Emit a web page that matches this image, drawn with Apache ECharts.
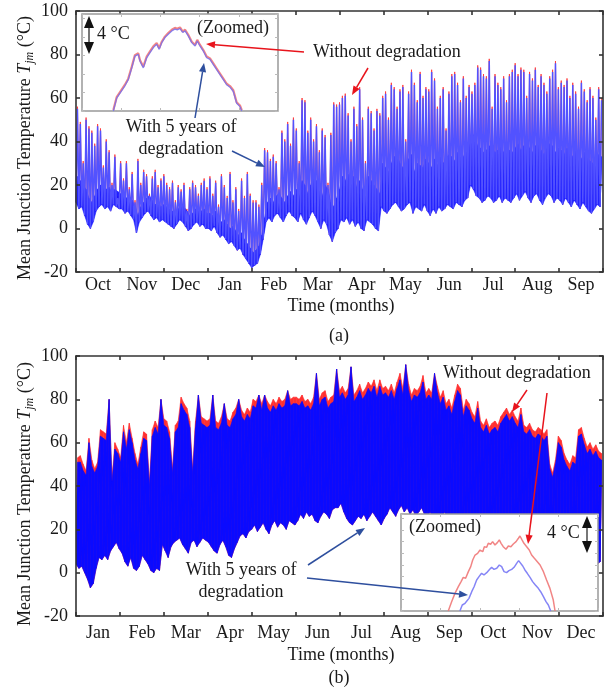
<!DOCTYPE html>
<html><head><meta charset="utf-8">
<script src="https://cdn.jsdelivr.net/npm/echarts@6/dist/echarts.min.js"></script>
<style>html,body{margin:0;padding:0;background:#fff}#c{width:613px;height:691px}</style>
</head><body><div id="c"></div>
<script>
// ---------- categories / ticks ----------
const monthsA = ['Oct','Nov','Dec','Jan','Feb','Mar','Apr','May','Jun','Jul','Aug','Sep'];
const monthsB = ['Jan','Feb','Mar','Apr','May','Jun','Jul','Aug','Sep','Oct','Nov','Dec'];
const yMin = -20, yMax = 100, yStep = 20;

// ---------- chart (a): 2-day periods ----------
const aMin = [
 12,9,10,6,2,0,3,8,10,11,9,10,8,11,10,9,
 9,7,8,6,4,-2,3,5,7,8,6,4,5,3,4,
 3,2,1,0,2,4,3,1,-1,0,2,3,1,2,0,
 0,-1,1,-2,-4,-3,-5,-7,-6,-8,-10,-9,-12,-14,-16,-18,
 -17,-16,-12,-5,3,5,3,6,7,5,3,6,8,6,
 5,3,7,4,2,5,8,6,3,0,4,2,-3,-6,-2,
 0,4,3,5,2,4,1,3,0,-1,4,3,2,0,-1,
 10,8,7,9,11,12,10,8,9,11,12,7,10,9,8,11,
 8,6,9,7,10,8,9,11,10,9,12,11,10,13,14,
 20,18,15,14,12,13,15,14,12,13,15,12,14,13,12,
 14,16,13,15,17,14,12,15,16,13,11,14,16,15,12,14,
 13,11,14,12,10,13,11,9,12,10,8,7,9,11,10];
// upper edge of the dense (low-load hours) band
const aDense = [
 24,22,20,18,14,12,15,18,20,20,18,19,16,18,17,16,
 16,14,15,13,10,6,10,12,14,15,13,11,12,10,11,
 10,9,8,7,9,11,10,8,6,7,9,10,8,9,7,
 7,6,8,5,3,4,2,0,1,-1,-3,-2,-5,-7,-9,-11,
 -10,-8,-3,5,12,14,12,15,16,14,12,15,17,15,
 18,15,22,20,16,20,24,22,18,15,20,18,12,10,14,
 18,24,22,25,20,24,19,22,18,15,24,22,20,18,16,
 30,28,26,30,33,34,30,28,29,32,34,26,30,29,28,32,
 30,28,32,29,33,30,32,34,33,31,35,34,33,36,38,
 44,42,38,37,35,36,38,37,35,36,38,35,37,36,35,
 37,39,36,38,40,37,35,38,39,36,34,37,39,38,35,37,
 36,34,37,35,33,36,34,32,35,33,31,30,32,34,33];
const aMaxDeg = [
 55,48,30,50,46,44,38,47,45,28,40,35,20,33,14,30,
 22,30,18,25,12,31,20,26,24,15,23,26,19,22,24,
 20,18,21,12,19,17,20,8,18,21,19,15,20,22,18,
 23,15,21,10,24,19,14,25,12,18,8,22,14,25,15,12,
 12,10,20,36,35,31,33,30,18,44,40,48,38,50,
 45,30,59,58,44,50,40,47,35,45,42,20,43,57,56,
 57,60,61,52,40,55,47,64,50,30,55,53,45,54,52,
 60,62,50,66,64,55,63,65,40,62,72,66,58,71,60,64,
 63,72,68,55,60,64,45,62,70,71,66,58,69,60,65,
 62,66,74,73,70,69,77,55,70,66,64,69,58,70,72,
 75,70,73,72,60,71,68,73,65,70,66,62,69,72,76,64,
 67,65,68,60,66,62,55,67,63,58,64,60,50,64,59];
const aMaxNoDeg = [
 56,49,31,51,47,45,39,48,46,29,41,36,21,34,15,31,
 23,31,19,26,13,32,21,27,25,16,24,27,20,23,25,
 21,19,22,13,20,18,21,9,19,22,20,16,21,23,19,
 24,16,22,11,25,20,15,26,13,19,9,23,15,26,16,13,
 13,11,21,37,36,32,34,31,19,45,41,49,39,51,
 46,31,60,59,45,51,41,48,36,46,43,21,44,58,57,
 58,61,62,53,41,56,48,65,51,31,56,54,46,55,53,
 61,63,51,67,65,56,64,66,41,63,73,67,59,72,61,65,
 64,73,69,56,61,65,46,63,71,72,67,59,70,61,66,
 63,67,75,74,71,70,78,56,71,67,65,70,59,71,73,
 76,71,74,73,61,72,69,74,66,71,67,63,70,73,77,65,
 68,66,69,61,67,63,56,68,64,59,65,61,51,65,60];

// ---------- chart (b) ----------
const bMin = [
 4,2,3,0,-3,-7,-5,2,7,6,8,6,10,12,14,11,
 9,5,3,7,2,1,3,8,6,4,1,0,2,1,
 13,10,7,12,14,15,16,13,11,9,14,15,12,14,16,15,
 14,12,10,9,13,15,12,8,7,11,14,17,18,16,19,
 20,22,19,21,23,20,18,22,24,21,23,22,20,24,23,
 22,24,27,25,28,26,27,24,23,26,28,27,25,29,30,
 30,32,28,25,23,22,24,26,25,27,24,26,28,26,24,22,
 25,27,30,28,26,29,31,28,30,27,29,26,28,30,27,
 26,28,25,27,24,26,28,25,23,27,25,22,24,26,23,
 24,22,20,23,21,19,22,20,18,21,19,17,20,18,16,19,
 18,16,19,15,17,14,16,13,15,12,14,10,8,11,9,
 10,8,6,9,7,5,8,6,4,7,5,3,6,4,5];
const bMaxDeg = [
 51,51,47,45,60,49,46,49,63,62,61,80,42,57,55,51,
 65,57,66,60,52,48,55,62,61,40,63,67,64,80,
 68,67,62,46,65,67,78,75,73,67,46,67,82,69,68,67,
 68,82,67,66,69,78,68,67,71,73,80,72,70,73,71,
 77,76,82,75,82,76,74,77,75,78,76,77,84,77,78,
 78,77,79,76,77,75,78,92,77,80,81,76,78,79,94,
 81,83,80,82,95,79,81,84,80,82,85,83,86,81,86,82,
 83,81,84,80,85,89,82,96,84,79,82,81,83,88,80,
 82,80,92,83,78,81,75,77,73,79,84,82,72,77,75,
 71,69,76,67,65,68,64,66,67,65,69,71,73,70,72,69,
 67,73,65,64,66,63,62,64,63,61,63,48,44,50,60,
 58,52,49,47,51,50,63,64,59,55,57,54,56,53,52];
const bMaxNoDeg = [
 53,54,50,47,62,52,48,51,66,65,64,80,44,60,57,53,
 68,60,69,62,55,50,58,65,64,42,66,70,67,80,
 71,70,65,48,68,70,81,78,76,70,48,70,82,72,71,70,
 71,82,70,69,72,78,71,70,74,76,80,75,73,76,74,
 80,79,82,78,82,79,77,80,78,81,79,80,84,80,81,
 81,80,82,79,80,78,81,92,80,83,84,79,81,82,94,
 84,86,83,85,95,82,84,87,83,85,88,86,89,84,89,85,
 86,84,87,83,88,92,85,96,87,82,85,84,86,91,83,
 85,83,92,86,81,84,78,80,76,82,87,85,75,80,78,
 74,72,79,70,68,71,67,69,70,68,72,74,76,73,75,72,
 70,76,68,67,69,66,65,67,66,64,66,50,46,52,63,
 61,55,52,50,54,53,66,67,62,58,60,57,59,56,55];

// ---------- zoomed insets (relative °C) ----------
const zoomA_t = [16.0,17.7,19.4,21.9,23.6,25.4,27.0,28.7,29.6,31.3,33.0,34.7,36.4,38.1,39.4,40.7,42.3,44.0,45.8,47.4,48.6,50.0,51.4,52.6,54.2,56.0,57.7,58.8,60.2,61.9,63.6,65.3,67.0,68.7,70.4,72.1,73.8,75.5,77.2,78.9,80.6,81.5];
const zoomA_deg = [0,1.39,1.93,2.73,3.39,4.67,5.94,6.13,5.39,4.67,5.76,6.31,6.86,7.22,6.67,7.40,7.95,8.31,8.67,8.86,8.78,8.93,8.50,8.67,8.13,7.40,7.04,7.58,7.04,6.49,5.76,5.58,5.03,4.48,3.94,3.39,2.84,2.58,2.11,0.84,0.47,0];
const zoomA_nodeg = [0.1,1.5,2.05,2.85,3.5,4.8,6.05,6.25,5.5,4.8,5.9,6.45,7.0,7.35,6.8,7.5,8.05,8.45,8.8,9.0,8.9,9.05,8.6,8.8,8.25,7.5,7.15,7.7,7.15,6.6,5.9,5.7,5.15,4.6,4.05,3.5,2.95,2.7,2.25,0.95,0.6,0.1];
const zoomB_tNo = [24.0,25.7,27.4,29.1,30.5,31.6,32.8,34.2,35.4,36.4,37.6,38.9,40.1,41.5,42.3,43.5,44.3,45.5,46.5,47.7,48.9,49.9,50.8,51.9,53.3,54.5,55.8,57.0,58.4,59.6,60.4,61.3,62.4,63.8,65.1,66.3,67.7,69.2,70.6,72.3,73.9,75.6,77.3,78.2];
const zoomB_nodeg = [0,1.01,1.91,2.63,3.18,3.64,3.54,4.26,4.80,5.52,6.06,6.24,6.60,6.42,6.96,6.89,7.33,7.22,7.51,7.14,7.40,7.69,7.33,6.96,6.68,7.04,6.96,7.25,7.51,7.87,8.12,7.76,7.33,6.96,6.60,6.06,5.70,5.34,4.98,4.26,3.36,2.45,1.19,0];
const zoomB_tDeg = [29.9,31.1,32.5,33.3,34.5,35.9,37.1,38.4,39.6,40.9,42.1,43.5,44.7,46.0,47.2,48.6,49.9,51.1,52.3,53.6,54.8,56.2,57.4,58.7,59.7,60.7,61.8,62.9,64.1,65.5,66.8,68.2,69.7,70.9,72.3,73.6,74.8,76.0];
const zoomB_deg = [0,0.65,0.83,0.65,1.37,2.09,2.63,3.36,3.72,4.08,3.90,4.15,4.44,4.73,4.51,4.62,4.98,4.80,4.26,4.15,4.37,4.51,4.73,5.16,5.45,5.34,4.87,4.44,4.08,3.64,3.18,2.81,2.45,2.09,1.55,1.01,0.65,0];

// ---------- helpers ----------
const F = '"Liberation Serif","Times New Roman",serif';
const AX = '#333';
function zig(lo, hi){ const o=[]; for(let i=0;i<lo.length;i++){ o.push([2*i, lo[i]]); o.push([2*i+1, hi[i]]); } return o; }
function pairs(xs, ys){ return xs.map((x,i)=>[x, ys[i]]); }
function band(xi, yi, lo, hi, color, z){
  return {type:'custom', xAxisIndex:xi, yAxisIndex:yi, z:z, clip:true, silent:true,
    data: lo.map((v,i)=>[2*i, v, hi[i]]), encode:{x:0, y:[1,2]},
    renderItem: function(params, api){
      const i = params.dataIndex, j = Math.min(i+1, lo.length-1);
      const pts = [api.coord([2*i, lo[i]]), api.coord([2*i+1, hi[i]]), api.coord([2*j+1, hi[j]]), api.coord([2*j, lo[j]])];
      return {type:'polygon', shape:{points:pts}, style:{fill:color, stroke:color, lineWidth:0.6}};
    }};
}
function catAxis(grid, data, pos, margin){
  return {gridIndex:grid, type:'category', data:data, position:pos, boundaryGap:true, z:5,
    axisLine:{show:true, onZero:false, lineStyle:{color:AX, width:1.6}},
    axisTick:{show:true, inside:true, length:4, lineStyle:{color:AX, width:1.6}},
    axisLabel:{show:pos==='bottom', fontSize:18, fontFamily:F, color:'#1a1a1a', margin:margin},
    splitLine:{show:false}};
}
function valY(grid, pos){
  return {gridIndex:grid, type:'value', min:yMin, max:yMax, interval:yStep, position:pos, z:5,
    axisLine:{show:true, onZero:false, lineStyle:{color:AX, width:1.6}},
    axisTick:{show:true, inside:true, length:4, lineStyle:{color:AX, width:1.6}},
    axisLabel:{show:pos==='left', fontSize:18, fontFamily:F, color:'#1a1a1a', margin:8},
    splitLine:{show:false}};
}
function insetAx(grid, pos, max, iv){
  return {gridIndex:grid, type:'value', min:0, max:max, interval:iv, position:pos, z:11,
    axisLine:{show:false, onZero:false}, axisLabel:{show:false}, splitLine:{show:false},
    axisTick:{show:true, inside:true, length:3, lineStyle:{color:'#bbb', width:1}}};
}
function txt(s, x, y, align){
  return {type:'text', x:x, y:y, z:100, style:{text:s, fontSize:18, fontFamily:F, fill:'#1a1a1a', align:align||'left', verticalAlign:'middle'}};
}
function arrow(x1,y1,x2,y2,color){
  const L=9, W=3.6, a=Math.atan2(y2-y1,x2-x1);
  const bx=x2-L*Math.cos(a), by=y2-L*Math.sin(a), px=-Math.sin(a)*W, py=Math.cos(a)*W;
  return [{type:'line', z:100, shape:{x1:x1,y1:y1,x2:bx,y2:by}, style:{stroke:color, lineWidth:1.5}},
          {type:'polygon', z:100, shape:{points:[[x2,y2],[bx+px,by+py],[bx-px,by-py]]}, style:{fill:color}}];
}
function dbl(x,y1,y2){
  return [{type:'line', z:100, shape:{x1:x,y1:y1+10,x2:x,y2:y2-10}, style:{stroke:'#777', lineWidth:2}},
          {type:'polygon', z:100, shape:{points:[[x,y1],[x-5,y1+12],[x+5,y1+12]]}, style:{fill:'#111'}},
          {type:'polygon', z:100, shape:{points:[[x,y2],[x-5,y2-12],[x+5,y2-12]]}, style:{fill:'#111'}}];
}
const RED='#e8141c', BLU='#2e4f9e';
function ytitle(x,y){
  return {type:'text', x:x, y:y, z:100, rotation:Math.PI/2,
    style:{text:'Mean Junction Temperature {i|T}{s|jm} (°C)', fontSize:18, fontFamily:F, fill:'#1a1a1a', align:'center', verticalAlign:'middle',
      rich:{i:{fontSize:18, fontFamily:F, fontStyle:'italic', fill:'#1a1a1a'},
            s:{fontSize:12, fontFamily:F, fontStyle:'italic', fill:'#1a1a1a', padding:[10,0,0,0]}}}};
}

const chart = echarts.init(document.getElementById('c'), null, {renderer:'canvas'});
const option = {
  animation:false,
  backgroundColor:'#fff',
  grid:[
    {left:76, top:11, width:527, height:261},
    {left:76, top:356, width:527, height:260},
    {left:82, top:14, width:196, height:97, show:true, backgroundColor:'#fff', borderColor:'#999', borderWidth:1.5, z:10},
    {left:401, top:514, width:197, height:97, show:true, backgroundColor:'#fff', borderColor:'#999', borderWidth:1.5, z:10}
  ],
  xAxis:[
    {gridIndex:0, type:'value', min:0, max:366, show:false},
    catAxis(0, monthsA, 'bottom', 4),
    catAxis(0, monthsA, 'top', 4),
    {gridIndex:1, type:'value', min:0, max:366, show:false},
    catAxis(1, monthsB, 'bottom', 8),
    catAxis(1, monthsB, 'top', 8),
    insetAx(2,'bottom',100,20), insetAx(2,'top',100,20),
    insetAx(3,'bottom',100,20), insetAx(3,'top',100,20)
  ],
  yAxis:[
    valY(0,'left'), valY(0,'right'), valY(1,'left'), valY(1,'right'),
    insetAx(2,'left',10.5,2), insetAx(2,'right',10.5,2),
    insetAx(3,'left',10.5,1.25), insetAx(3,'right',10.5,1.25)
  ],
  series:[
    {type:'line', name:'Without degradation (a)', xAxisIndex:0, yAxisIndex:0, data:zig(aMin,aMaxNoDeg), symbol:'none', z:2,
      lineStyle:{color:'#ff3a3a', width:0.9}},
    band(0, 0, aMin, aDense, 'rgba(15,15,255,0.92)', 3),
    {type:'line', name:'With 5 years of degradation (a)', xAxisIndex:0, yAxisIndex:0, data:zig(aMin,aMaxDeg), symbol:'none', z:4,
      lineStyle:{color:'#5252ff', width:1.5}},
    band(3, 2, bMin, bMaxNoDeg, '#ff3030', 2),
    band(3, 2, bMin, bMaxDeg, '#0a0aff', 3),
    {type:'line', xAxisIndex:6, yAxisIndex:4, data:pairs(zoomA_t,zoomA_nodeg), symbol:'none', z:12,
      lineStyle:{color:'rgba(240,110,110,0.85)', width:2.2}},
    {type:'line', xAxisIndex:6, yAxisIndex:4, data:pairs(zoomA_t,zoomA_deg), symbol:'none', z:13,
      lineStyle:{color:'rgba(110,110,245,0.8)', width:1.3}},
    {type:'line', xAxisIndex:8, yAxisIndex:6, data:pairs(zoomB_tNo,zoomB_nodeg), symbol:'none', z:12,
      lineStyle:{color:'rgba(240,120,120,0.9)', width:1.5}},
    {type:'line', xAxisIndex:8, yAxisIndex:6, data:pairs(zoomB_tDeg,zoomB_deg), symbol:'none', z:13,
      lineStyle:{color:'rgba(120,120,245,0.9)', width:1.5}}
  ],
  graphic:[].concat(
    [ytitle(25,148), ytitle(25,494),
     txt('Time (months)', 341, 306, 'center'), txt('(a)', 339, 336, 'center'),
     txt('Time (months)', 341, 655, 'center'), txt('(b)', 339, 678, 'center'),
     txt('(Zoomed)', 197, 28), txt('4 °C', 97, 34),
     txt('Without degradation', 313, 52),
     txt('With 5 years of', 181, 127, 'center'), txt('degradation', 181, 149, 'center'),
     txt('Without degradation', 443, 373),
     txt('With 5 years of', 241, 570, 'center'), txt('degradation', 241, 592, 'center'),
     txt('(Zoomed)', 409, 527), txt('4 °C', 547, 533)],
    dbl(89, 16, 54), dbl(587, 516, 553),
    arrow(304,52,206,44,RED), arrow(368,68,352,95,RED),
    arrow(195,118,204,63,BLU), arrow(232,151,265,167,BLU),
    arrow(527,390,512,412,RED), arrow(547,393,528,544,RED),
    arrow(308,565,365,528,BLU), arrow(307,578,468,595,BLU)
  )
};
chart.setOption(option);
</script></body></html>
